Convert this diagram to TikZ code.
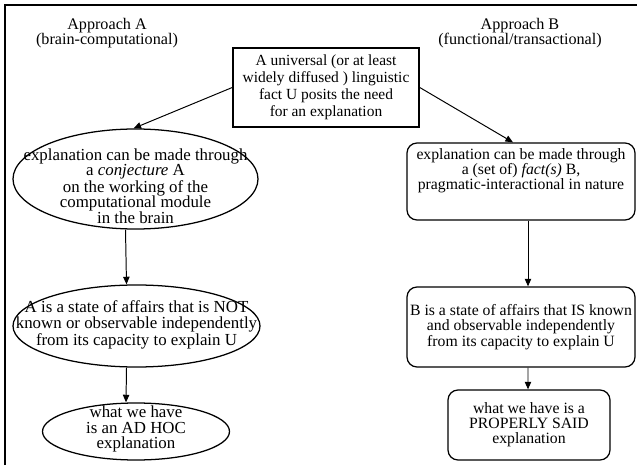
\documentclass[tikz,border=0pt]{standalone}
\usepackage{fontspec}
\setmainfont{Liberation Serif}
\usetikzlibrary{positioning,arrows.meta,shapes.geometric}

\begin{document}
\begin{tikzpicture}[
  head/.style={align=center, inner sep=0pt, font=\fontsize{11.5pt}{11pt}\selectfont},
  fact/.style={draw, rectangle, line width=1.1pt, minimum width=4.65cm, minimum height=1.975cm, align=center, inner sep=2pt, font=\fontsize{11pt}{12pt}\selectfont},
  oval/.style={draw, ellipse, line width=0.9pt, inner sep=0pt},
  rbox/.style={draw, rectangle, rounded corners=0.25cm, line width=0.9pt, minimum width=5.7cm, align=center, inner sep=2pt, font=\fontsize{11.2pt}{10.8pt}\selectfont},
  txt/.style={align=center, inner sep=0pt, font=\fontsize{12pt}{11pt}\selectfont},
  arr/.style={-{Triangle[length=1.9mm, width=1.6mm]}, line width=0.7pt},
]
  \useasboundingbox (0,0) rectangle (15.925,11.625);
  \draw[line width=0.8pt] (0.125,0) -- (0.125,11.5) -- (15.925,11.5);

  \node[head] (apprA) at (2.675,10.8) {Approach A\\(brain-computational)};
  \node[head] (apprB) at (13.0,10.8) {Approach B\\(functional/transactional)};

  \node[fact] (univ) at (8.15,9.4375) {A universal (or at least\\widely diffused ) linguistic\\fact U posits the need\\for an explanation};

  % approach A: ellipses
  \node[oval, minimum width=6.125cm, minimum height=2.5cm] (conjA) at (3.3875,7.15) {};
  \node[txt] (conjAtxt) at (3.3875,6.975) {explanation can be made through\\a \emph{conjecture} A\\on the working of the\\computational module\\in the brain};
  \node[oval, minimum width=6.175cm, minimum height=2.05cm] (stateA) at (3.4125,3.475) {};
  \node[txt] (stateAtxt) at (3.4125,3.5) {A is a state of affairs that is NOT\\known or observable independently\\from its capacity to explain U};
  \node[oval, minimum width=4.675cm, minimum height=1.425cm] (adhoc) at (3.4,0.8375) {};
  \node[txt] (adhoctxt) at (3.4,0.9) {what we have\\is an AD HOC\\explanation};

  % approach B: rounded boxes
  \node[rbox, minimum height=1.925cm] (factB) at (13.025,7.0875) {};
  \node[txt, font=\fontsize{11.2pt}{10.8pt}\selectfont, below=0.15cm of factB.north] (factBtxt) {explanation can be made through\\a (set of) \emph{fact(s)} B,\\pragmatic-interactional in nature};
  \node[rbox, minimum height=2.0cm] (knownB) at (13.025,3.45) {B is a state of affairs that IS known\\and observable independently\\from its capacity to explain U};
  \node[rbox, minimum width=4.05cm, minimum height=1.75cm] (properB) at (13.225,1.0) {what we have is a\\PROPERLY SAID\\explanation};

  \draw[arr] (univ.west) -- ([xshift=-0.05cm]conjA.north);
  \draw[arr] (univ.east) -- ([xshift=-0.2cm]factB.north);
  \draw[arr] ([xshift=-0.25cm]conjA.south) -- ([xshift=-0.25cm]stateA.north);
  \draw[arr] ([xshift=-0.25cm]stateA.south) -- ([xshift=-0.25cm]adhoc.north);
  \draw[arr] ([xshift=0.175cm]factB.south) -- ([xshift=0.175cm]knownB.north);
  \draw[arr] ([xshift=0.175cm]knownB.south) -- ([xshift=-0.025cm]properB.north);
\end{tikzpicture}
\end{document}
